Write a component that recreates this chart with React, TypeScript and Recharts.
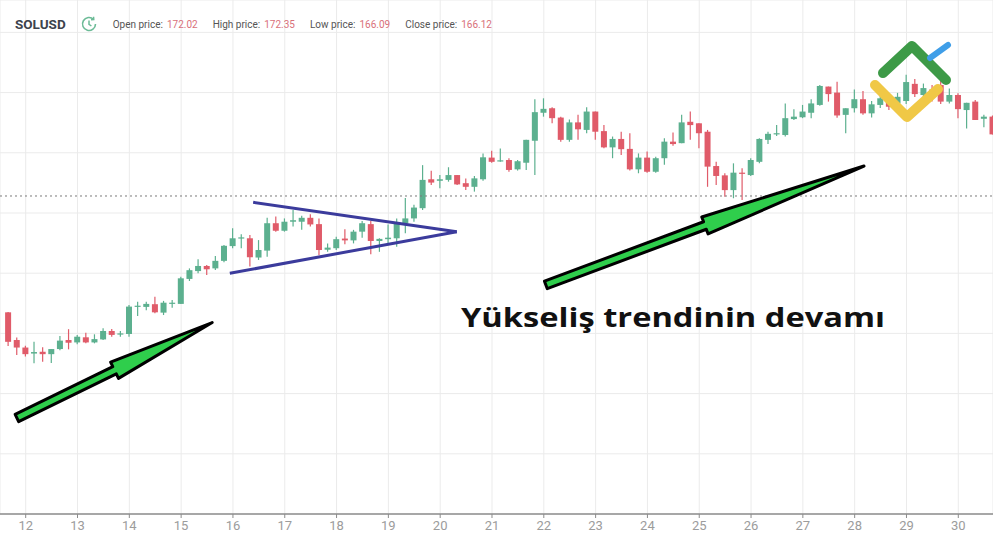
import React from "react";
import { ComposedChart, Bar, XAxis, YAxis, CartesianGrid, ReferenceLine } from "recharts";

// 4h candles, first one at 11th 16:00
const firstCandle = 11 + 16 / 24;
const candleStep = 4 / 24;

const opens = [
  107.0, 97.8, 95.3, 93.3, 93.9, 93.1, 94.8, 97.8, 97.0, 98.7, 97.0, 98.0, 100.8, 99.7, 99.8, 108.8, 108.8, 109.7, 106.9, 109.8,
  109.8, 118.1, 120.7, 122.4, 121.6, 124.1, 129.0, 131.6, 131.6, 125.2, 127.5, 136.6, 134.1, 137.1, 137.1, 138.4, 136.3, 127.8, 128.3, 131.5,
  130.9, 133.8, 136.3, 130.7, 131.3, 131.6, 136.6, 138.2, 141.6, 151.2, 150.7, 151.0, 152.6, 149.9, 148.7, 151.2, 158.4, 157.2, 157.6, 154.5,
  156.7, 164.0, 173.3, 174.8, 171.7, 164.3, 170.1, 167.6, 173.7, 167.2, 161.8, 164.6, 161.3, 154.5, 158.4, 153.7, 158.2, 163.7, 163.2, 170.3,
  169.8, 167.0, 155.6, 152.5, 147.6, 153.4, 152.6, 157.0, 164.3, 166.2, 165.9, 171.2, 171.8, 173.3, 175.9, 182.0, 180.0, 172.6, 174.8, 177.8,
  173.1, 175.9, 177.0, 176.4, 177.2, 182.9, 179.2, 181.0, 182.5, 177.0, 179.2, 174.2, 177.0, 171.3, 172.02,
];
const highs = [
  107.1, 98.6, 95.9, 97.2, 95.4, 94.8, 99.1, 101.4, 99.5, 100.2, 99.7, 101.7, 101.5, 100.8, 109.4, 110.5, 110.5, 112.2, 110.8, 111.1,
  118.8, 121.6, 124.6, 122.7, 125.7, 129.4, 134.9, 132.9, 132.7, 131.0, 138.4, 138.8, 138.2, 141.0, 139.1, 139.6, 138.2, 129.9, 132.1, 134.6,
  134.4, 137.3, 137.3, 131.6, 136.2, 138.2, 145.0, 142.7, 155.9, 154.0, 152.6, 155.2, 152.6, 151.5, 152.3, 159.8, 160.7, 161.4, 158.2, 157.6,
  164.3, 177.8, 178.1, 175.1, 172.0, 171.1, 172.6, 175.1, 173.7, 169.2, 165.4, 167.0, 166.5, 159.8, 160.4, 158.7, 164.8, 166.7, 172.6, 173.7,
  169.8, 167.6, 157.0, 153.2, 156.5, 154.9, 158.2, 164.8, 167.0, 169.2, 176.4, 174.5, 175.9, 177.8, 182.5, 182.0, 183.6, 174.8, 181.0, 180.5,
  177.2, 179.2, 178.2, 179.9, 185.9, 184.5, 183.0, 182.5, 184.2, 181.4, 179.8, 176.6, 177.5, 172.6, 172.35,
];
const lows = [
  95.8, 92.8, 92.3, 90.1, 90.6, 90.2, 94.4, 94.7, 96.4, 96.7, 96.7, 97.8, 98.9, 98.9, 98.9, 105.8, 107.7, 106.7, 106.1, 108.5,
  109.8, 117.4, 120.0, 119.4, 121.1, 123.6, 128.3, 128.3, 122.2, 124.4, 125.5, 133.8, 133.8, 135.5, 134.4, 135.5, 126.0, 127.1, 127.7, 129.6,
  129.9, 131.8, 126.3, 127.1, 129.4, 128.8, 133.3, 137.1, 141.0, 149.3, 148.2, 150.4, 149.3, 147.6, 147.1, 150.7, 156.7, 157.0, 153.7, 154.1,
  154.3, 152.6, 172.0, 169.8, 163.7, 163.7, 164.3, 166.5, 164.3, 161.5, 158.2, 159.3, 154.1, 153.2, 153.4, 153.4, 156.0, 162.3, 163.2, 164.3,
  161.5, 148.7, 149.3, 145.4, 144.9, 144.3, 152.3, 156.5, 162.9, 165.6, 165.4, 170.9, 171.5, 171.5, 175.6, 177.0, 171.6, 166.5, 173.4, 172.6,
  171.7, 174.9, 174.2, 175.6, 176.2, 178.5, 178.0, 177.0, 176.2, 176.4, 171.5, 168.1, 170.9, 168.5, 166.09,
];
const closes = [
  97.2, 95.3, 93.1, 93.8, 93.1, 94.8, 97.6, 96.9, 98.9, 97.0, 98.1, 100.8, 99.5, 100.0, 108.9, 109.2, 109.8, 107.0, 110.2, 110.2,
  118.3, 121.0, 122.4, 121.3, 124.1, 129.1, 131.6, 131.9, 125.3, 127.7, 136.6, 134.1, 137.1, 137.6, 138.4, 136.2, 127.7, 128.5, 131.3, 130.9,
  133.8, 136.6, 130.7, 131.4, 131.8, 136.6, 138.2, 141.8, 151.0, 150.1, 151.2, 152.6, 149.5, 148.7, 151.5, 158.5, 157.0, 157.5, 154.3, 157.2,
  164.3, 173.5, 174.6, 171.5, 164.3, 170.1, 167.8, 173.7, 167.0, 161.8, 164.6, 161.2, 154.5, 158.4, 153.7, 158.2, 163.7, 162.9, 170.1, 169.2,
  166.5, 155.4, 152.3, 147.6, 153.4, 153.1, 157.6, 164.6, 166.3, 166.5, 171.5, 172.0, 173.7, 176.4, 182.2, 179.5, 172.4, 174.8, 177.8, 173.1,
  176.1, 178.1, 175.3, 178.6, 183.5, 179.5, 181.5, 178.5, 177.0, 179.2, 174.5, 176.6, 170.9, 172.0, 166.12,
];

const dayTicks = [12, 13, 14, 15, 16, 17, 18, 19, 20, 21, 22, 23, 24, 25, 26, 27, 28, 29, 30];
const priceTicks = [40, 60, 80, 100, 120, 140, 160, 180, 200];
const lastPriceLine = 145.65;

// annotations, in chart coordinates (day, price)
const triangleUpper = [{ x: 16.39, y: 143.55 }, { x: 20.32, y: 133.79 }];
const triangleLower = [{ x: 15.94, y: 119.96 }, { x: 20.32, y: 133.79 }];
const arrowLeft = [{ x: 11.83, y: 71.9 }, { x: 15.6, y: 103.6 }];
const arrowRight = [{ x: 22.04, y: 116.1 }, { x: 28.18, y: 155.6 }];

const header = { symbol: "SOLUSD", open: "172.02", high: "172.35", low: "166.09", close: "166.12" };

const GREEN = "#5cb08f";
const RED = "#e05b69";

const data = opens.map((open, i) => ({
  t: firstCandle + i * candleStep,
  open,
  high: highs[i],
  low: lows[i],
  close: closes[i],
  range: [lows[i], highs[i]],
}));

const Candle = (props: any) => {
  const { x, y, width, height, payload } = props;
  const { open, close, high, low } = payload;
  const color = close >= open ? GREEN : RED;
  const ratio = height / (high - low || 1);
  const bodyTop = y + (high - Math.max(open, close)) * ratio;
  const bodyH = Math.max(Math.abs(open - close) * ratio, 1.2);
  const cx = x + width / 2;
  return (
    <g>
      <line x1={cx} x2={cx} y1={y} y2={y + height} stroke={color} strokeWidth={1.2} />
      <rect x={x} y={bodyTop} width={width} height={bodyH} fill={color} />
    </g>
  );
};

const Arrow = (props: any) => {
  const { x1, y1, x2, y2 } = props;
  const dx = x2 - x1;
  const dy = y2 - y1;
  const len = Math.hypot(dx, dy);
  const ux = dx / len;
  const uy = dy / len;
  const nx = -uy;
  const ny = ux;
  const shaft = 4;
  const head = 9;
  const bx = x1 + ux * len * 0.5;
  const by = y1 + uy * len * 0.5;
  const pts = [
    [x1 + nx * shaft, y1 + ny * shaft],
    [bx + nx * shaft, by + ny * shaft],
    [bx + nx * head, by + ny * head],
    [x2, y2],
    [bx - nx * head, by - ny * head],
    [bx - nx * shaft, by - ny * shaft],
    [x1 - nx * shaft, y1 - ny * shaft],
  ];
  return (
    <polygon
      points={pts.map((p) => p.join(",")).join(" ")}
      fill="#2fce4c"
      stroke="#000"
      strokeWidth={3}
      strokeLinejoin="round"
    />
  );
};

const label: React.CSSProperties = { color: "#555", fontSize: 10, marginRight: 4 };
const value: React.CSSProperties = { color: "#d9707a", fontSize: 10, marginRight: 15 };

export default function App() {
  return (
    <div
      style={{
        position: "absolute",
        left: 0,
        top: 0,
        width: 993,
        height: 542,
        background: "#fff",
        overflow: "hidden",
        fontFamily: "Roboto, sans-serif",
      }}
    >
      <ComposedChart width={993} height={542} data={data} margin={{ top: 0, right: 0, bottom: 0, left: 0 }}>
        <CartesianGrid stroke="#ebebeb" strokeWidth={1} />
        <XAxis
          dataKey="t"
          type="number"
          domain={[11.504, 30.67]}
          allowDataOverflow
          ticks={dayTicks}
          tickFormatter={(v) => String(Math.round(v))}
          height={28}
          axisLine={{ stroke: "#8c8c8c", strokeWidth: 1.5 }}
          tickLine={{ stroke: "#8c8c8c" }}
          tickSize={4}
          tickMargin={3}
          tick={{ fill: "#9c9c9c", fontSize: 13, fontFamily: "Roboto" }}
        />
        <YAxis type="number" domain={[40, 210.76]} ticks={priceTicks} allowDataOverflow hide width={0} />
        <ReferenceLine y={lastPriceLine} stroke="#7a7a7a" strokeDasharray="2 3" strokeWidth={1} />
        <Bar dataKey="range" barSize={6} shape={<Candle />} isAnimationActive={false} />
        <ReferenceLine segment={triangleUpper} stroke="#3b3b9c" strokeWidth={3} ifOverflow="visible" />
        <ReferenceLine segment={triangleLower} stroke="#3b3b9c" strokeWidth={3} ifOverflow="visible" />
        <ReferenceLine segment={arrowLeft} shape={Arrow} ifOverflow="visible" />
        <ReferenceLine segment={arrowRight} shape={Arrow} ifOverflow="visible" />
      </ComposedChart>

      <div style={{ position: "absolute", left: 15, top: 15, display: "flex", alignItems: "center", whiteSpace: "nowrap" }}>
        <span style={{ fontWeight: 700, fontSize: 13.5, color: "#3d434c", marginRight: 14 }}>{header.symbol}</span>
        <svg width={18} height={18} viewBox="0 0 18 18" style={{ marginRight: 15 }}>
          <path d="M15.5 9 A6.5 6.5 0 1 1 13.6 4.4" fill="none" stroke="#6cbb97" strokeWidth={1.6} />
          <path d="M13.6 1.8 L13.8 4.6 L11 4.8" fill="none" stroke="#6cbb97" strokeWidth={1.4} />
          <path d="M9 5.5 V9.3 L11.4 11" fill="none" stroke="#6cbb97" strokeWidth={1.5} />
        </svg>
        <span style={label}>Open price:</span>
        <span style={value}>{header.open}</span>
        <span style={label}>High price:</span>
        <span style={value}>{header.high}</span>
        <span style={label}>Low price:</span>
        <span style={value}>{header.low}</span>
        <span style={label}>Close price:</span>
        <span style={value}>{header.close}</span>
      </div>

      <svg width={993} height={542} style={{ position: "absolute", left: 0, top: 0, pointerEvents: "none" }}>
        <text
          x={461}
          y={327}
          fontFamily="'Open Sans', sans-serif"
          fontWeight={700}
          fontSize={27}
          fill="#111"
          textLength={424}
          lengthAdjust="spacingAndGlyphs"
        >
          Yükseliş trendinin devamı
        </text>
        <g fill="none" strokeLinecap="round" strokeLinejoin="round" strokeWidth={10}>
          <polyline points="875,85 907,117 938,89" stroke="#f0c846" />
          <polyline points="883,73 912,46 946,80" stroke="#3d9a47" />
          <line x1={930} y1={58} x2={948} y2={45} stroke="#3f9ee8" strokeWidth={6} />
        </g>
      </svg>
    </div>
  );
}
